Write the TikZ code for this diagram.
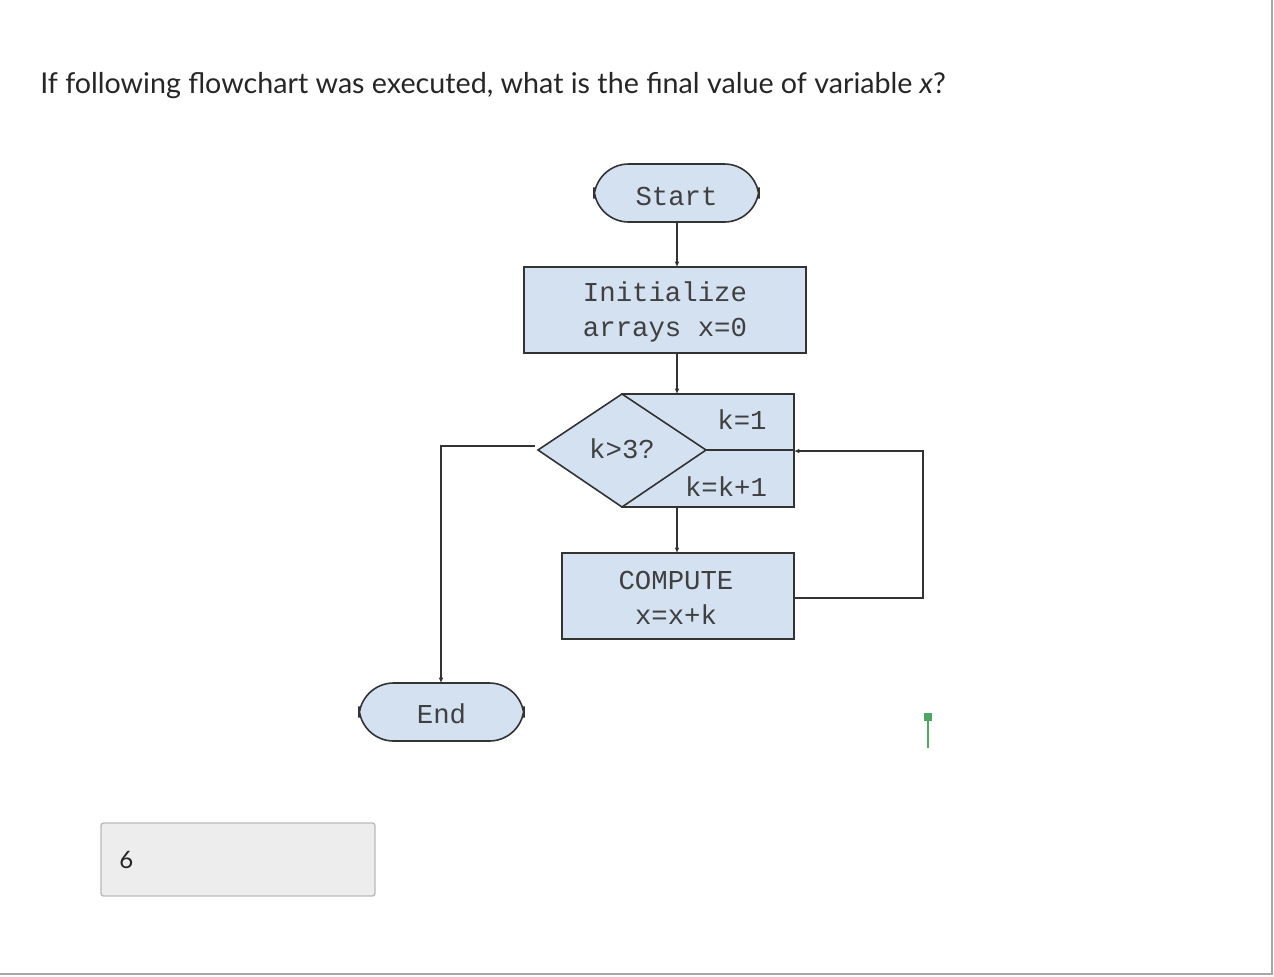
\documentclass[tikz,border=0pt]{standalone}
\usepackage{fontspec}
\setmainfont{Lato}
\newfontfamily\monof{Liberation Mono}
\usetikzlibrary{arrows.meta}
\definecolor{boxblue}{HTML}{D3E1F0}
\definecolor{lineg}{HTML}{333333}
\definecolor{greenm}{HTML}{4EA567}
\begin{document}
\begin{tikzpicture}[x=0.75pt,y=-0.75pt,
  blk/.style={draw=lineg,fill=boxblue,line width=1.2pt},
  mono/.style={font=\monof\fontsize{20.5}{26}\selectfont,text=black!75},
  conn/.style={draw=lineg,line width=1pt,-{Latex[length=4pt,width=3.5pt]}},
  plain/.style={draw=lineg,line width=1pt}]
\useasboundingbox (0,0) rectangle (1274,976);
\fill[white] (0,0) rectangle (1274,976);
\draw[gray!70,line width=2pt] (1272,0) -- (1272,974) -- (0,974);
\node[anchor=base west,inner sep=0,font=\fontsize{21.5}{26}\selectfont,text=black!85] (q) at (40,93) {If following flowchart was executed, what is the final value of variable \textit{x}?};
% Start
\draw[blk,rounded corners=26] (594,164) rectangle (759,222);
\node[mono] (start) at (676.5,196) {Start};
\coordinate (sb) at (677,222);
% Init
\draw[blk] (524,267) rectangle (806,353);
\node[mono,align=center] (init) at (665,312) {Initialize\\arrays x=0};
\coordinate (it) at (677,267);
\coordinate (ib) at (677,353);
% loop block
\draw[blk] (622,394) rectangle (794,507);
\draw[blk] (538,450) -- (622,394) -- (706,450) -- (622,507) -- cycle;
\draw[plain] (706,450) -- (794,450);
\node[mono] (k3) at (622,449) {k>3?};
\node[mono] (k1) at (742,420) {k=1};
\node[mono] (kk) at (726,487) {k=k+1};
\coordinate (lt) at (677,394);
\coordinate (lb) at (677,507);
\coordinate (lr) at (794,451);
\coordinate (ll) at (535,446);
% compute
\draw[blk] (562,553) rectangle (794,639);
\node[mono,align=center] (comp) at (676,598) {COMPUTE\\x=x+k};
\coordinate (ct) at (677,553);
\coordinate (cr) at (794,598);
% End
\draw[blk,rounded corners=26] (359,683) rectangle (524,741);
\node[mono] (endn) at (441.5,714) {End};
\coordinate (et) at (441,683);
% connectors
\draw[conn] (sb) -- (it);
\draw[conn] (ib) -- (lt);
\draw[conn] (lb) -- (ct);
\draw[conn] (cr) -- (923,598) -- (923,451) -- (lr);
\draw[conn] (ll) -- (441,446) -- (et);
% green marker
\fill[greenm] (924,713) rectangle (932,721);
\draw[greenm,line width=2pt] (928,721) -- (928,748);
% answer box
\draw[gray!55,fill=black!7,rounded corners=2,line width=1pt] (101,823) rectangle (375,896);
\node[anchor=base west,inner sep=0,font=\fontsize{18}{22}\selectfont,text=black!85] (ans) at (119,868) {6};
\end{tikzpicture}
\end{document}
